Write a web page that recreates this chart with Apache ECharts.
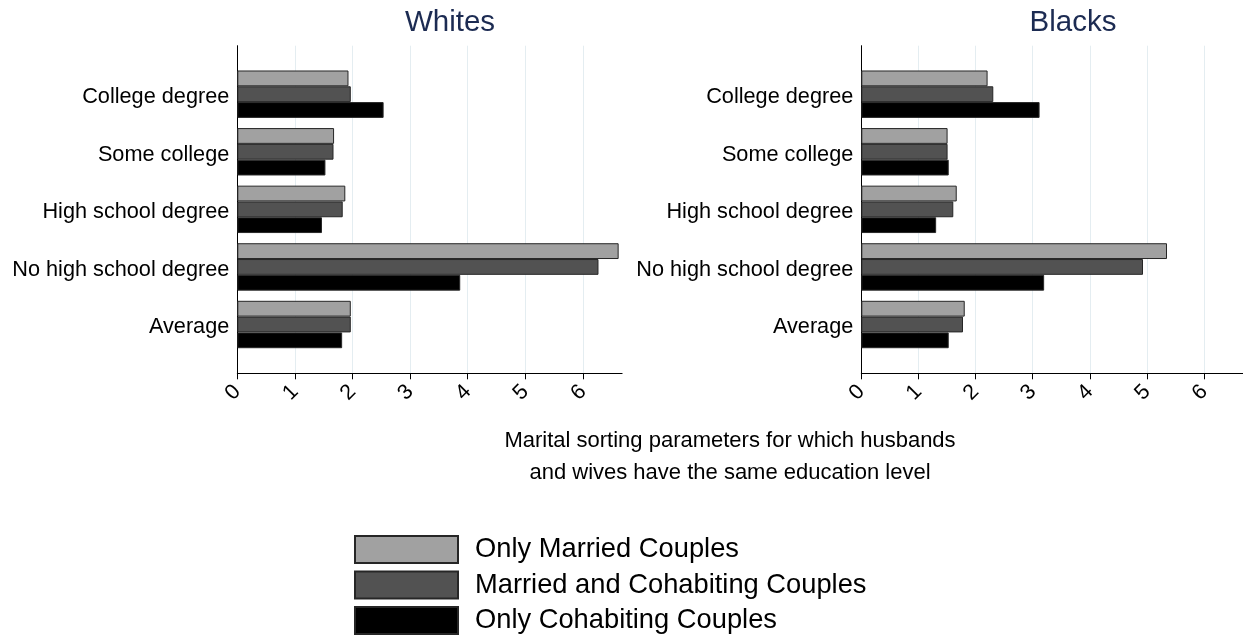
<!DOCTYPE html>
<html>
<head>
<meta charset="utf-8">
<script src="https://cdn.jsdelivr.net/npm/echarts@6/dist/echarts.min.js"></script>
<style>
html,body{margin:0;padding:0;background:#fff;}
#chart{width:1243px;height:643px;}
</style>
</head>
<body>
<div id="chart"></div>
<script>
// ---- data ----
const categories = ['College degree', 'Some college', 'High school degree', 'No high school degree', 'Average'];
const seriesNames = ['Only Married Couples', 'Married and Cohabiting Couples', 'Only Cohabiting Couples'];
const panelTitles = ['Whites', 'Blacks'];
const xTicks = [0, 1, 2, 3, 4, 5, 6];
const axisTitleLines = ['Marital sorting parameters for which husbands', 'and wives have the same education level'];

const whitesMarried = [1.93, 1.68, 1.875, 6.62, 1.97];
const whitesBoth    = [1.97, 1.67, 1.83, 6.27, 1.97];
const whitesCohab   = [2.54, 1.53, 1.47, 3.87, 1.82];

const blacksMarried = [2.21, 1.51, 1.67, 5.35, 1.81];
const blacksBoth    = [2.31, 1.51, 1.61, 4.93, 1.78];
const blacksCohab   = [3.12, 1.53, 1.31, 3.20, 1.53];

// ---- styling ----
const FONT = "'Liberation Sans', Arial, Helvetica, sans-serif";
const barColors = ['#a1a1a1', '#525252', '#000000'];
const xMax = 6.68;
const panelLeft = [237.3, 861.3];
const plotWidth = 384.8;
const axesTop = 45.7, axesHeight = 327.6;
const barsTop = 65.4, barsHeight = 287.9;

const grids = [], xAxes = [], yAxes = [], series = [];
const panelData = [[whitesMarried, whitesBoth, whitesCohab], [blacksMarried, blacksBoth, blacksCohab]];

panelData.forEach((vals, p) => {
  // frame grid (axes, ticks, gridlines)
  const gA = grids.length;
  grids.push({left: panelLeft[p], width: plotWidth, top: axesTop, height: axesHeight, containLabel: false});
  xAxes.push({
    type: 'value', gridIndex: gA, min: 0, max: xMax, interval: 1,
    axisLine: {show: true, onZero: false, lineStyle: {color: '#000', width: 1}},
    axisTick: {show: true, length: 6, lineStyle: {color: '#000'}, customValues: xTicks},
    axisLabel: {
      show: true, rotate: 45, margin: 15, fontSize: 21.5, fontFamily: FONT, color: '#000',
      customValues: xTicks,
      formatter: v => String(v)
    },
    splitLine: {show: true, lineStyle: {color: '#e4edf1', width: 1}}
  });
  yAxes.push({
    type: 'value', gridIndex: gA, min: 0, max: 1,
    axisLine: {show: true, lineStyle: {color: '#000', width: 1}},
    axisTick: {show: false}, axisLabel: {show: false}, splitLine: {show: false}
  });
  // bar grid
  const gB = grids.length;
  grids.push({left: panelLeft[p], width: plotWidth, top: barsTop, height: barsHeight, containLabel: false});
  xAxes.push({type: 'value', gridIndex: gB, min: 0, max: xMax, show: false, splitLine: {show: false}});
  yAxes.push({
    type: 'category', gridIndex: gB, data: categories, inverse: true,
    axisLine: {show: false}, axisTick: {show: false}, splitLine: {show: false},
    axisLabel: {
      show: true, margin: 8, fontSize: 21.7, fontFamily: FONT, color: '#000',
      formatter: v => '{c|' + v + '}',
      rich: {c: {fontSize: 21.7, fontFamily: FONT, color: '#000', lineHeight: 28, verticalAlign: 'bottom'}}
    }
  });
  vals.forEach((arr, s) => {
    series.push({
      type: 'bar', name: seriesNames[s], xAxisIndex: xAxes.length - 1, yAxisIndex: yAxes.length - 1,
      data: arr, barWidth: 15.8, barGap: '0%',
      itemStyle: {color: barColors[s], borderColor: '#262626', borderWidth: 1},
      emphasis: {disabled: true}, silent: true
    });
  });
});

const chart = echarts.init(document.getElementById('chart'), null, {renderer: 'canvas'});
chart.setOption({
  animation: false,
  backgroundColor: '#ffffff',
  grid: grids, xAxis: xAxes, yAxis: yAxes, series: series,
  legend: {
    data: seriesNames, orient: 'vertical', left: 354, top: 535,
    itemWidth: 103, itemHeight: 27, itemGap: 6.5, icon: 'rect', padding: 0,
    selectedMode: false,
    textStyle: {fontSize: 27.3, fontFamily: FONT, color: '#000', padding: [0, 0, 0, 12], lineHeight: 27}
  },
  graphic: [
    {type: 'text', x: 450, y: 22.5, style: {text: panelTitles[0], align: 'center', verticalAlign: 'middle', fontSize: 29.5, fontFamily: FONT, fill: '#1c2b52'}},
    {type: 'text', x: 1073, y: 22.5, style: {text: panelTitles[1], align: 'center', verticalAlign: 'middle', fontSize: 29.5, fontFamily: FONT, fill: '#1c2b52'}},
    {type: 'text', x: 730, y: 457, style: {text: axisTitleLines.join('\n'), align: 'center', verticalAlign: 'middle', lineHeight: 32.7, fontSize: 22, fontFamily: FONT, fill: '#000'}}
  ]
});
</script>
</body>
</html>
